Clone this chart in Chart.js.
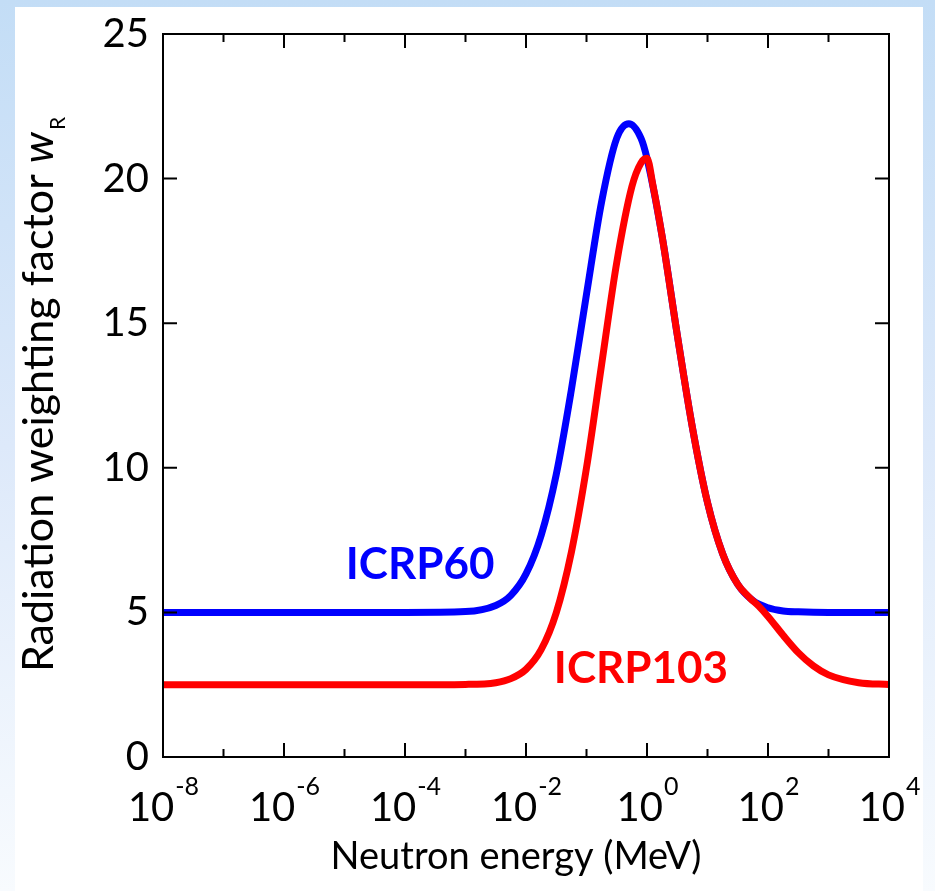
<!DOCTYPE html>
<html>
<head>
<meta charset="utf-8">
<script src="https://cdn.jsdelivr.net/npm/chart.js@4.4.1/dist/chart.umd.min.js"></script>
<style>
html,body{margin:0;padding:0;background:#ffffff;}
#wrap{width:935px;height:891px;position:relative;}
canvas{display:block;}
</style>
</head>
<body>
<div id="wrap"><canvas id="c" width="935" height="891"></canvas></div>
<script>
// ---- Data ----
// Neutron energy given as log10(E / MeV)
const logE_ICRP60 = [-8, -4, -3, -2.5, -2.25, -2, -1.75, -1.5, -1.25, -1, -0.75, -0.5, -0.3, -0.1, 0, 0.25, 0.5, 0.75, 1, 1.25, 1.5, 1.75, 2, 2.25, 2.5, 3, 4];
const wR_ICRP60   = [5.0, 5.0, 5.03, 5.24, 5.59, 6.33, 7.66, 9.77, 12.7, 16.0, 19.2, 21.4, 21.9, 21.4, 20.7, 18.0, 14.6, 11.4, 8.8, 7.03, 5.97, 5.41, 5.16, 5.05, 5.02, 5.0, 5.0];

const logE_ICRP103 = [-8, -4, -3, -2.5, -2.25, -2, -1.75, -1.5, -1.25, -1, -0.75, -0.5, -0.25, -0.1, 0, 0.1, 0.25, 0.5, 0.75, 1, 1.25, 1.5, 1.7, 1.85, 2, 2.25, 2.5, 2.75, 3, 3.5, 4];
const wR_ICRP103   = [2.5, 2.5, 2.51, 2.57, 2.71, 3.03, 3.71, 4.99, 7.08, 10.0, 13.57, 17.1, 19.72, 20.54, 20.7, 19.75, 18.0, 14.6, 11.4, 8.8, 7.03, 5.97, 5.5, 5.21, 4.86, 4.21, 3.61, 3.15, 2.84, 2.57, 2.51];

const seriesNames  = ['ICRP60', 'ICRP103'];
const seriesColors = ['#0000ff', '#ff0000'];
// where the in-plot series labels sit (log10 E, wR) – label centres
const seriesLabelLogE = [-3.75, -0.1];
const seriesLabelWR   = [6.65, 3.05];

const xTickExponents = [-8, -6, -4, -2, 0, 2, 4];
const xMinorExponents = [-7, -5, -3, -1, 1, 3];
const yTickValues = [0, 5, 10, 15, 20, 25];

const xTitle = 'Neutron energy (MeV)';
const yTitleMain = 'Radiation weighting factor ';
const yTitleSymbol = 'w';
const yTitleSub = 'R';

const FONT = 'Lato, "Open Sans", "Liberation Sans", sans-serif';

function toPoints(logs, vals) {
  return logs.map((l, i) => ({ x: Math.pow(10, l), y: vals[i] }));
}

const decorPlugin = {
  id: 'decor',
  beforeDraw(chart) {
    const ctx = chart.ctx;
    const W = chart.width, H = chart.height;
    ctx.save();
    const g = ctx.createLinearGradient(0, 0, 0, H);
    g.addColorStop(0, '#c3ddf6');
    g.addColorStop(0.5, '#dde9fa');
    g.addColorStop(1, '#f8fbfe');
    ctx.fillStyle = g;
    ctx.fillRect(0, 0, W, H);
    ctx.fillStyle = '#ffffff';
    ctx.fillRect(15, 7, 908, H - 7);
    ctx.restore();
  },
  afterDraw(chart) {
    const ctx = chart.ctx;
    const a = chart.chartArea;
    const xs = chart.scales.x, ys = chart.scales.y;
    ctx.save();
    // frame
    ctx.strokeStyle = '#000000';
    ctx.lineWidth = 2;
    ctx.strokeRect(a.left, a.top, a.right - a.left, a.bottom - a.top);
    // x ticks (inward, top and bottom)
    ctx.beginPath();
    xTickExponents.forEach(e => {
      const px = xs.getPixelForValue(Math.pow(10, e));
      ctx.moveTo(px, a.bottom); ctx.lineTo(px, a.bottom - 14);
      ctx.moveTo(px, a.top); ctx.lineTo(px, a.top + 14);
    });
    xMinorExponents.forEach(e => {
      const px = xs.getPixelForValue(Math.pow(10, e));
      ctx.moveTo(px, a.bottom); ctx.lineTo(px, a.bottom - 8);
      ctx.moveTo(px, a.top); ctx.lineTo(px, a.top + 8);
    });
    // y ticks (inward, left and right)
    yTickValues.forEach(v => {
      const py = ys.getPixelForValue(v);
      ctx.moveTo(a.left, py); ctx.lineTo(a.left + 14, py);
      ctx.moveTo(a.right, py); ctx.lineTo(a.right - 14, py);
    });
    ctx.stroke();

    // y tick labels
    ctx.fillStyle = '#000000';
    ctx.font = '40px ' + FONT;
    ctx.textAlign = 'right';
    ctx.textBaseline = 'middle';
    yTickValues.forEach(v => {
      const py = ys.getPixelForValue(v);
      ctx.fillText(String(v), a.left - 14, py);
    });

    // x tick labels 10^n
    ctx.textAlign = 'left';
    ctx.textBaseline = 'alphabetic';
    xTickExponents.forEach(e => {
      const px = xs.getPixelForValue(Math.pow(10, e));
      const base = '10', sup = String(e);
      ctx.font = '40px ' + FONT;
      const wb = ctx.measureText(base).width;
      ctx.font = '25px ' + FONT;
      const ws = ctx.measureText(sup).width;
      const x0 = px - (wb + ws) / 2;
      ctx.font = '40px ' + FONT;
      ctx.fillText(base, x0, a.bottom + 64);
      ctx.font = '25px ' + FONT;
      ctx.fillText(sup, x0 + wb + 1, a.bottom + 38);
    });

    // x title
    ctx.font = '38px ' + FONT;
    ctx.textAlign = 'center';
    ctx.fillText(xTitle, (a.left + a.right) / 2 - 10, a.bottom + 112);

    // y title (rotated)
    ctx.save();
    ctx.translate(53, (a.top + a.bottom) / 2);
    ctx.rotate(-Math.PI / 2);
    ctx.font = '43px ' + FONT;
    const w1 = ctx.measureText(yTitleMain).width;
    ctx.font = 'italic 43px ' + FONT;
    const w2 = ctx.measureText(yTitleSymbol).width;
    ctx.font = '21px ' + FONT;
    const w3 = ctx.measureText(yTitleSub).width;
    let sx = -(w1 + w2 + w3) / 2;
    ctx.textAlign = 'left';
    ctx.font = '43px ' + FONT;
    ctx.fillText(yTitleMain, sx, 0);
    ctx.font = 'italic 43px ' + FONT;
    ctx.fillText(yTitleSymbol, sx + w1, 0);
    ctx.font = '21px ' + FONT;
    ctx.fillText(yTitleSub, sx + w1 + w2 + 2, 12);
    ctx.restore();

    // series labels
    ctx.font = 'bold 44px ' + FONT;
    ctx.textAlign = 'center';
    ctx.textBaseline = 'middle';
    seriesNames.forEach((n, i) => {
      ctx.fillStyle = seriesColors[i];
      ctx.fillText(n, xs.getPixelForValue(Math.pow(10, seriesLabelLogE[i])), ys.getPixelForValue(seriesLabelWR[i]));
    });
    ctx.restore();
  }
};

new Chart(document.getElementById('c'), {
  type: 'line',
  data: {
    datasets: [
      {
        label: seriesNames[1],
        data: toPoints(logE_ICRP103, wR_ICRP103),
        borderColor: seriesColors[1],
        backgroundColor: seriesColors[1],
        order: 0
      },
      {
        label: seriesNames[0],
        data: toPoints(logE_ICRP60, wR_ICRP60),
        borderColor: seriesColors[0],
        backgroundColor: seriesColors[0],
        order: 1
      }
    ]
  },
  options: {
    responsive: false,
    animation: false,
    devicePixelRatio: 1,
    layout: { padding: { left: 163, right: 46, top: 34, bottom: 134 } },
    plugins: { legend: { display: false }, tooltip: { enabled: false } },
    elements: {
      point: { radius: 0, hoverRadius: 0 },
      line: { borderWidth: 7, cubicInterpolationMode: 'monotone', fill: false }
    },
    scales: {
      x: { type: 'logarithmic', min: 1e-8, max: 1e4, display: false },
      y: { type: 'linear', min: 0, max: 25, display: false }
    }
  },
  plugins: [decorPlugin]
});
</script>
</body>
</html>
